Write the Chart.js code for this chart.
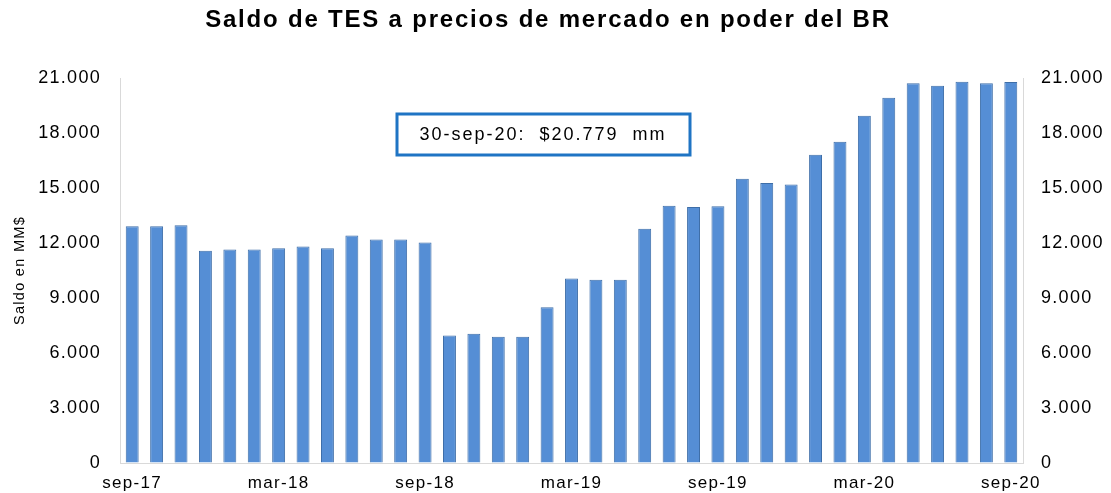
<!DOCTYPE html>
<html>
<head>
<meta charset="utf-8">
<script src="https://cdn.jsdelivr.net/npm/chart.js@4.4.1/dist/chart.umd.min.js"></script>
<style>
  html, body { margin: 0; padding: 0; background: #fff; }
  #wrap { width: 1111px; height: 493px; }
</style>
</head>
<body>
<div id="wrap"><canvas id="tesChart"></canvas></div>
<script>
// monthly balance, sep-17 .. sep-20 (miles de millones)
const months = [
  "sep-17", "oct-17", "nov-17", "dic-17", "ene-18", "feb-18", "mar-18", "abr-18", "may-18", "jun-18", "jul-18", "ago-18",
  "sep-18", "oct-18", "nov-18", "dic-18", "ene-19", "feb-19", "mar-19", "abr-19", "may-19", "jun-19", "jul-19", "ago-19",
  "sep-19", "oct-19", "nov-19", "dic-19", "ene-20", "feb-20", "mar-20", "abr-20", "may-20", "jun-20", "jul-20", "ago-20",
  "sep-20"
];
const saldo = [
  12920, 12920, 12970, 11580, 11650, 11650, 11720, 11810, 11720, 12410, 12190, 12190,
  12030, 6960, 7050, 6880, 6880, 8500, 10070, 9990, 9990, 12780, 14030, 13970,
  14010, 15500, 15270, 15190, 16810, 17520, 18940, 19920, 20720, 20580, 20800, 20720,
  20779
];
const shownMonths = ["sep-17", "mar-18", "sep-18", "mar-19", "sep-19", "mar-20", "sep-20"];
const yMax = 21000;
const yStep = 3000;
const titleText = "Saldo de TES a precios de mercado en poder del BR";
const noteText = "30-sep-20:  $20.779  mm";

const FONT = '"Liberation Sans", Arial, sans-serif';
Chart.defaults.font.family = FONT;
Chart.defaults.color = "#000";

function fmtMiles(v) {
  return String(v).replace(/\B(?=(\d{3})+(?!\d))/g, ".");
}

// the original text is a bit wide, so widen letters a little
const spacingPlugin = {
  id: "spacing",
  beforeDraw(chart) {
    chart.ctx.letterSpacing = "1.3px";
  }
};

// title + boxed note
const textPlugin = {
  id: "texts",
  afterDraw(chart) {
    const ctx = chart.ctx;
    ctx.save();
    ctx.fillStyle = "#000";
    ctx.textAlign = "center";
    ctx.textBaseline = "middle";

    ctx.letterSpacing = "1.8px";
    ctx.font = "bold 24px " + FONT;
    ctx.fillText(titleText, 548, 20);

    ctx.strokeStyle = "#1f74c4";
    ctx.lineWidth = 3;
    ctx.strokeRect(397, 114, 293, 41);
    ctx.letterSpacing = "2px";
    ctx.font = "18px " + FONT;
    ctx.fillText(noteText, 543, 135);
    ctx.restore();
  }
};

const yAxisBase = {
  min: 0,
  max: yMax,
  grid: { display: true, drawOnChartArea: false, drawTicks: false },
  border: { display: true, color: "#d9d9d9", width: 1 },
  ticks: {
    stepSize: yStep,
    padding: 19,
    font: { size: 18 },
    callback: (v) => fmtMiles(v)
  }
};

new Chart(document.getElementById("tesChart"), {
  type: "bar",
  data: {
    labels: months,
    datasets: [{
      data: saldo,
      backgroundColor: "#558ed5",
      borderColor: "#3e6ea8",
      borderWidth: 1,
      barPercentage: 0.53,
      categoryPercentage: 1.0,
      yAxisID: "y"
    }]
  },
  options: {
    responsive: true,
    maintainAspectRatio: false,
    animation: false,
    layout: { padding: { left: 0, right: 0, top: 78, bottom: 0 } },
    plugins: {
      legend: { display: false },
      tooltip: { enabled: false },
      title: { display: false }
    },
    scales: {
      x: {
        grid: { display: true, drawOnChartArea: false, drawTicks: false },
        border: { display: true, color: "#d9d9d9", width: 1 },
        ticks: {
          autoSkip: false,
          maxRotation: 0,
          padding: 10,
          font: { size: 17 },
          callback: function (val) {
            const lab = this.getLabelForValue(val);
            return shownMonths.includes(lab) ? lab : "";
          }
        },
        afterFit: (s) => { s.height = 30; }
      },
      y: Object.assign({}, yAxisBase, {
        position: "left",
        title: {
          display: true,
          text: "Saldo en MM$",
          font: { size: 14.5 },
          padding: { top: 11, bottom: 0 }
        },
        afterFit: (s) => { s.width = 120; }
      }),
      y2: Object.assign({}, yAxisBase, {
        position: "right",
        ticks: Object.assign({}, yAxisBase.ticks, { padding: 18 }),
        afterFit: (s) => { s.width = 88; }
      })
    }
  },
  plugins: [spacingPlugin, textPlugin]
});
</script>
</body>
</html>
